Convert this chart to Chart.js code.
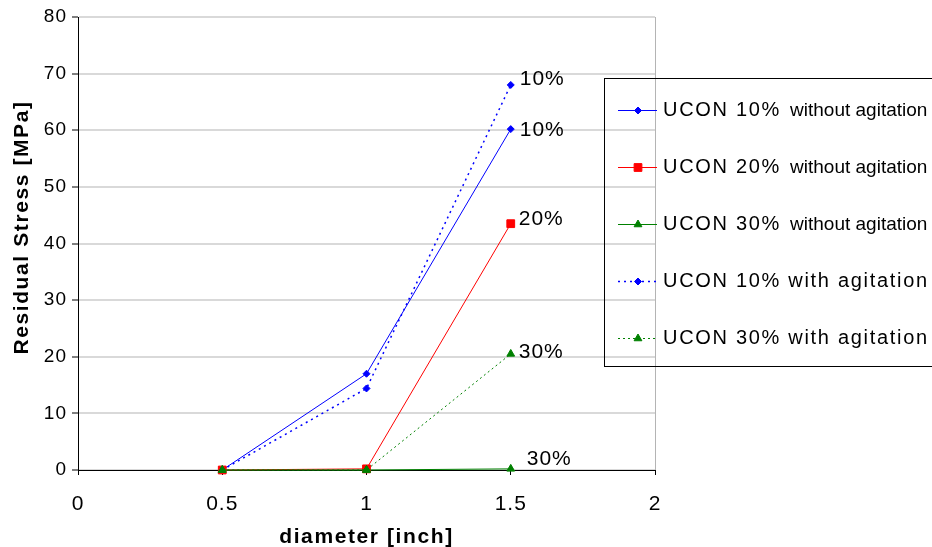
<!DOCTYPE html>
<html>
<head>
<meta charset="utf-8">
<script src="https://cdn.jsdelivr.net/npm/chart.js@4.4.1/dist/chart.umd.min.js"></script>
<style>
html, body { margin: 0; padding: 0; background: #fff; }
canvas { display: block; }
</style>
</head>
<body>
<canvas id="stressChart" width="932" height="547"></canvas>
<script>
// values
var diameters = [0.5, 1, 1.5];
var ucon10_without = [0, 17, 60.2];
var ucon20_without = [0, 0.2, 43.5];
var ucon30_without = [0, 0, 0.2];
var ucon10_with = [0, 14.4, 68];
var ucon30_with = [0, 0, 20.5];

var seriesNames = ['UCON 10%', 'UCON 20%', 'UCON 30%', 'UCON 10%', 'UCON 30%'];
var conditions = ['without agitation', 'without agitation', 'without agitation', 'with agitation', 'with agitation'];
var endLabels = ['10%', '20%', '30%', '10%', '30%'];

var BLUE = '#0000ff', RED = '#ff0000', GREEN = '#008000';
var FONT = '"Liberation Sans", Arial, sans-serif';

Chart.defaults.font.family = FONT;
Chart.defaults.color = '#000';

function points(vals) {
	return diameters.map(function (d, i) { return { x: d, y: vals[i] }; });
}

function series(i, vals, color, style, radius, dash, width, order) {
	return {
		label: seriesNames[i] + ' ' + conditions[i],
		data: points(vals),
		borderColor: color,
		backgroundColor: color,
		borderWidth: width,
		borderDash: dash,
		pointStyle: style,
		pointRadius: radius,
		pointBorderWidth: 1,
		pointBackgroundColor: color,
		pointBorderColor: color,
		tension: 0,
		fill: false,
		clip: false,
		order: order
	};
}

// wider letters, the picture's text is stretched sideways
var spacing = {
	id: 'spacing',
	beforeUpdate: function (chart) { chart.ctx.letterSpacing = '1px'; },
	beforeDraw: function (chart) {
		chart.ctx.letterSpacing = '1px';
		Object.keys(chart.scales).forEach(function (id) {
			var s = chart.scales[id];
			if (s._spaced) return;
			var orig = s.drawTitle;
			s.drawTitle = function () {
				var c = this.ctx;
				c.save();
				c.letterSpacing = '1.6px';
				if (this.axis === 'y') c.translate(0, -16);
				else c.translate(0, 3);
				orig.call(this);
				c.restore();
			};
			s._spaced = true;
		});
	}
};

var endLabelsPlugin = {
	id: 'endLabels',
	afterDatasetsDraw: function (chart, args, opts) {
		var ctx = chart.ctx;
		ctx.save();
		ctx.font = '21px ' + FONT;
		ctx.letterSpacing = '1px';
		ctx.fillStyle = '#000';
		ctx.textAlign = 'left';
		ctx.textBaseline = 'middle';
		chart.data.datasets.forEach(function (ds, i) {
			var meta = chart.getDatasetMeta(i);
			var pt = meta.data[meta.data.length - 1];
			var off = opts.offsets[i];
			ctx.fillText(endLabels[i], pt.x + off[0], pt.y + off[1]);
		});
		ctx.restore();
	}
};

var boxLegend = {
	id: 'boxLegend',
	afterDraw: function (chart, args, opts) {
		var ctx = chart.ctx;
		ctx.save();
		ctx.strokeStyle = '#000';
		ctx.lineWidth = 1;
		ctx.setLineDash([]);
		ctx.strokeRect(opts.left + 0.5, opts.top + 0.5, 400, opts.bottom - opts.top);

		chart.data.datasets.forEach(function (ds, i) {
			var y = opts.firstRow + i * opts.rowGap;
			// line sample
			ctx.strokeStyle = ds.borderColor;
			ctx.lineWidth = ds.borderWidth;
			ctx.setLineDash(ds.borderDash || []);
			ctx.beginPath();
			ctx.moveTo(opts.left + 14, Math.round(y) + 0.5);
			ctx.lineTo(opts.left + 53, Math.round(y) + 0.5);
			ctx.stroke();
			// marker
			ctx.setLineDash([]);
			ctx.fillStyle = ds.pointBackgroundColor;
			ctx.strokeStyle = ds.pointBorderColor;
			ctx.lineWidth = 1;
			Chart.helpers.drawPoint(ctx, { pointStyle: ds.pointStyle, radius: ds.pointRadius, rotation: 0, borderWidth: 1 }, opts.left + 34, Math.round(y) + 0.5);
			// text
			ctx.fillStyle = '#000';
			ctx.textAlign = 'left';
			ctx.textBaseline = 'middle';
			var tx = opts.left + 59;
			if (opts.compact[i]) {
				ctx.font = '20px ' + FONT;
				ctx.letterSpacing = '1.7px';
				ctx.fillText(seriesNames[i], tx, y);
				var w = ctx.measureText(seriesNames[i]).width;
				ctx.font = '19px ' + FONT;
				ctx.letterSpacing = '0px';
				ctx.fillText(conditions[i], tx + w + 9, y + 1);
			} else {
				ctx.font = '20px ' + FONT;
				ctx.letterSpacing = '1.7px';
				ctx.fillText(seriesNames[i] + ' ' + conditions[i], tx, y);
			}
		});
		ctx.restore();
	}
};

var ctx = document.getElementById('stressChart').getContext('2d');

var chart = new Chart(ctx, {
	type: 'line',
	data: {
		datasets: [
			series(0, ucon10_without, BLUE, 'rectRot', 3.5, [], 1, 4),
			series(1, ucon20_without, RED, 'rect', 5.5, [], 1, 2),
			series(2, ucon30_without, GREEN, 'triangle', 4.5, [], 1, 0),
			series(3, ucon10_with, BLUE, 'rectRot', 3.5, [2, 4], 1.5, 3),
			series(4, ucon30_with, GREEN, 'triangle', 4.5, [2, 3], 1, 1)
		]
	},
	options: {
		responsive: false,
		devicePixelRatio: 1,
		animation: false,
		events: [],
		layout: { padding: { left: 0, top: 17, right: 277, bottom: 0 } },
		scales: {
			x: {
				type: 'linear',
				min: 0,
				max: 2,
				afterFit: function (s) { s.height = 77; },
				ticks: {
					stepSize: 0.5,
					padding: 17,
					font: { size: 21 },
					color: '#000',
					callback: function (v) { return String(v); }
				},
				grid: {
					color: function (c) { return c.tick && c.tick.value === 2 ? '#b4b4b4' : 'rgba(0,0,0,0)'; },
					lineWidth: 1,
					tickColor: '#000',
					tickLength: 5,
					tickWidth: 1
				},
				border: { color: '#000', width: 1 },
				title: {
					display: true,
					text: 'diameter [inch]',
					font: { size: 21, weight: 'bold' },
					color: '#000',
					padding: { top: 0, bottom: 0 }
				}
			},
			y: {
				min: 0,
				max: 80,
				afterFit: function (s) { s.width = 78; },
				ticks: { stepSize: 10, padding: 5, font: { size: 19 }, color: '#000' },
				grid: {
					color: '#d9d9d9',
					lineWidth: 2,
					tickColor: '#000',
					tickLength: 6,
					tickWidth: 1
				},
				border: { color: '#000', width: 1 },
				title: {
					display: true,
					text: 'Residual Stress [MPa]',
					font: { size: 21, weight: 'bold' },
					color: '#000',
					padding: { top: 10, bottom: 0 }
				}
			}
		},
		plugins: {
			legend: { display: false },
			tooltip: { enabled: false },
			endLabels: { offsets: [[9, 1], [8, -4], [16, -10], [9, -6], [8, -2]] },
			boxLegend: {
				left: 604, top: 78, bottom: 366,
				firstRow: 110, rowGap: 57,
				compact: [true, true, true, false, false]
			}
		}
	},
	plugins: [spacing, endLabelsPlugin, boxLegend]
});
</script>
</body>
</html>
